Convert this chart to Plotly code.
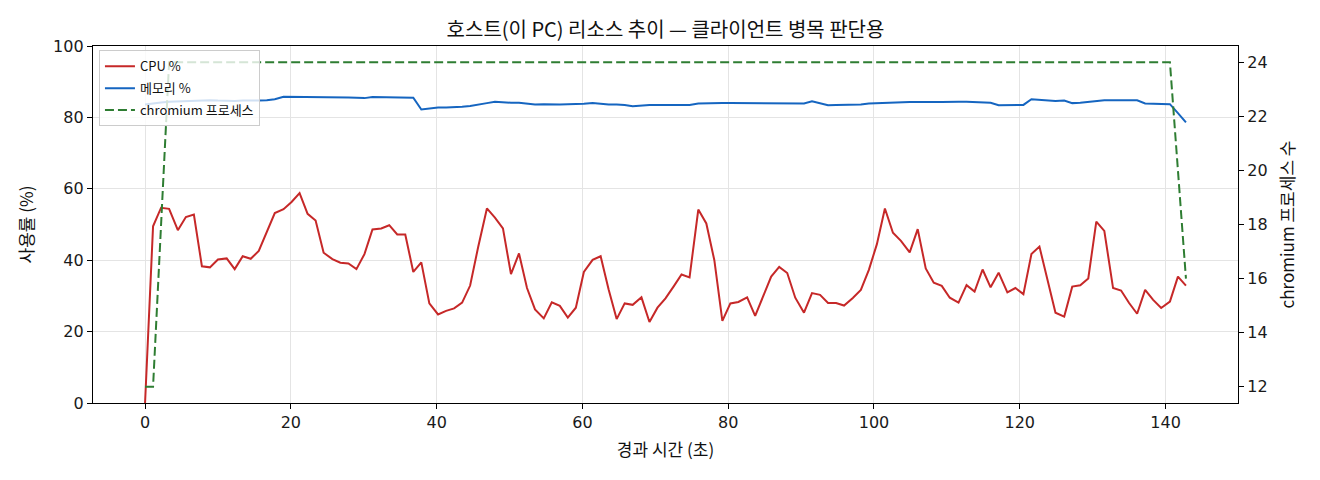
import plotly.graph_objects as go

# elapsed time (s)
time_s = [
    0.0, 1.1, 2.2, 3.3, 4.5, 5.6, 6.7, 7.8, 8.9, 10.0,
    11.2, 12.3, 13.4, 14.5, 15.6, 16.7, 17.8, 19.0, 20.1, 21.2,
    22.3, 23.4, 24.5, 25.7, 26.8, 27.9, 29.0, 30.1, 31.2, 32.4,
    33.5, 34.6, 35.7, 36.8, 37.9, 39.0, 40.2, 41.3, 42.4, 43.5,
    44.6, 45.7, 46.9, 48.0, 49.1, 50.2, 51.3, 52.4, 53.5, 54.7,
    55.8, 56.9, 58.0, 59.1, 60.2, 61.4, 62.5, 63.6, 64.7, 65.8,
    66.9, 68.1, 69.2, 70.3, 71.4, 72.5, 73.6, 74.7, 75.9, 77.0,
    78.1, 79.2, 80.3, 81.4, 82.6, 83.7, 84.8, 85.9, 87.0, 88.1,
    89.2, 90.4, 91.5, 92.6, 93.7, 94.8, 95.9, 97.1, 98.2, 99.3,
    100.4, 101.5, 102.6, 103.7, 104.9, 106.0, 107.1, 108.2, 109.3, 110.4,
    111.6, 112.7, 113.8, 114.9, 116.0, 117.1, 118.3, 119.4, 120.5, 121.6,
    122.7, 123.8, 124.9, 126.1, 127.2, 128.3, 129.4, 130.5, 131.6, 132.8,
    133.9, 135.0, 136.1, 137.2, 138.3, 139.4, 140.6, 141.7, 142.8,
]

cpu_pct = [
    0.0, 49.5, 54.7, 54.4, 48.4, 52.1, 52.8, 38.3, 38.0, 40.2,
    40.5, 37.5, 41.1, 40.4, 42.6, 47.7, 53.2, 54.3, 56.3, 58.8,
    53.0, 51.1, 42.1, 40.3, 39.3, 39.1, 37.5, 41.7, 48.6, 48.9,
    49.8, 47.2, 47.2, 36.7, 39.4, 27.9, 24.8, 25.8, 26.5, 28.1,
    32.9, 43.7, 54.5, 51.9, 48.9, 36.1, 41.9, 32.2, 26.2, 23.7,
    28.2, 27.2, 23.9, 26.7, 36.7, 40.1, 41.1, 31.8, 23.5, 27.9,
    27.5, 29.6, 22.7, 26.7, 29.3, 32.6, 36.0, 35.2, 54.2, 50.3,
    40.0, 23.0, 27.9, 28.3, 29.6, 24.4, 30.0, 35.4, 38.1, 36.4,
    29.5, 25.3, 30.8, 30.3, 28.0, 28.0, 27.3, 29.4, 31.7, 37.3,
    44.5, 54.5, 47.7, 45.4, 42.2, 48.7, 37.7, 33.7, 32.8, 29.5,
    28.1, 33.0, 31.2, 37.4, 32.4, 36.5, 31.0, 32.2, 30.5, 41.7,
    43.8, 34.7, 25.3, 24.2, 32.6, 33.0, 34.9, 50.8, 48.2, 32.2,
    31.5, 28.0, 25.0, 31.7, 28.9, 26.6, 28.4, 35.4, 32.9,
]

mem_pct = [
    83.6, 84.0, 84.2, 84.4, 84.5, 84.6, 84.7, 84.8, 84.8, 84.7,
    84.6, 84.6, 84.7, 84.6, 84.7, 84.8, 85.1, 85.8, 85.8, 85.8,
    85.8, 85.8, 85.7, 85.7, 85.6, 85.6, 85.5, 85.4, 85.7, 85.7,
    85.7, 85.7, 85.6, 85.5, 82.2, 82.5, 82.8, 82.8, 82.8, 83.0,
    83.2, 83.5, 84.0, 84.4, 84.2, 84.1, 84.1, 83.9, 83.6, 83.7,
    83.6, 83.6, 83.7, 83.7, 83.8, 84.0, 83.7, 83.6, 83.6, 83.5,
    83.1, 83.4, 83.5, 83.5, 83.5, 83.5, 83.6, 83.5, 83.9, 84.0,
    84.0, 84.0, 84.0, 84.0, 83.9, 83.8, 83.8, 83.8, 84.0, 83.9,
    83.8, 83.9, 84.5, 83.9, 83.4, 83.5, 83.5, 83.5, 83.6, 83.9,
    84.0, 84.0, 84.1, 84.1, 84.3, 84.3, 84.2, 84.3, 84.3, 84.4,
    84.4, 84.4, 84.3, 84.4, 84.1, 83.4, 83.5, 83.5, 83.5, 85.1,
    84.9, 84.6, 84.6, 84.7, 84.0, 84.1, 84.3, 84.7, 84.8, 84.8,
    84.8, 84.8, 84.8, 83.9, 83.9, 83.8, 83.7, 81.2, 78.6,
]

chromium_procs = [
    12, 12, 18, 24, 24, 24, 24, 24, 24, 24,
    24, 24, 24, 24, 24, 24, 24, 24, 24, 24,
    24, 24, 24, 24, 24, 24, 24, 24, 24, 24,
    24, 24, 24, 24, 24, 24, 24, 24, 24, 24,
    24, 24, 24, 24, 24, 24, 24, 24, 24, 24,
    24, 24, 24, 24, 24, 24, 24, 24, 24, 24,
    24, 24, 24, 24, 24, 24, 24, 24, 24, 24,
    24, 24, 24, 24, 24, 24, 24, 24, 24, 24,
    24, 24, 24, 24, 24, 24, 24, 24, 24, 24,
    24, 24, 24, 24, 24, 24, 24, 24, 24, 24,
    24, 24, 24, 24, 24, 24, 24, 24, 24, 24,
    24, 24, 24, 24, 24, 24, 24, 24, 24, 24,
    24, 24, 24, 24, 24, 24, 24, 20, 16,
]

x_ticks = [0, 20, 40, 60, 80, 100, 120, 140]
y_ticks = [0, 20, 40, 60, 80, 100]
y2_ticks = [12, 14, 16, 18, 20, 22, 24]

FONT = "Noto Sans CJK KR, Noto Sans, sans-serif"
TICKFONT = "DejaVu Sans, Noto Sans CJK KR, sans-serif"
GRID = "#e4e4e4"

fig = go.Figure()
fig.add_trace(go.Scatter(x=time_s, y=cpu_pct, name="CPU %", mode="lines", legendgroup="a",
                         line=dict(color="#c62828", width=2)))
fig.add_trace(go.Scatter(x=time_s, y=mem_pct, name="메모리 %", mode="lines", legendgroup="b",
                         line=dict(color="#1565c0", width=2)))
fig.add_trace(go.Scatter(x=time_s, y=chromium_procs, name="chromium 프로세스", mode="lines",
                         legendgroup="c", yaxis="y2",
                         line=dict(color="#2e7d32", width=2, dash="9px,4px")))

axis_common = dict(showline=True, linecolor="black", linewidth=1.3, ticks="outside",
                   ticklen=5, tickwidth=1.2, tickcolor="black", zeroline=False,
                   tickfont=dict(family=TICKFONT, size=16, color="#1a1a1a"))

# page body has an 8px margin: figure sized/offset so the plot box lands at x 93..1238, y 46..403
fig.update_layout(
    width=1312, height=472, autosize=False,
    margin=dict(l=85, r=82, t=38, b=77),
    paper_bgcolor="white", plot_bgcolor="white",
    font=dict(family=FONT, color="#111"),
    title=dict(text="호스트(이 PC) 리소스 추이 — 클라이언트 병목 판단용",
               x=657.5 / 1312, xanchor="center", y=1 - 22 / 472, yanchor="middle",
               yref="container", font=dict(family=FONT, size=20, color="#111")),
    xaxis=dict(range=[-7.14, 149.94], tickvals=x_ticks, showgrid=True, gridcolor=GRID,
               mirror=True, title=dict(text="경과 시간 (초)", standoff=12,
                                       font=dict(family=FONT, size=17)),
               **axis_common),
    yaxis=dict(range=[0, 100], tickvals=y_ticks, showgrid=True, gridcolor=GRID,
               mirror=True, title=dict(text="사용률 (%)", standoff=15,
                                       font=dict(family=FONT, size=17)),
               **axis_common),
    yaxis2=dict(range=[11.4, 24.6], tickvals=y2_ticks, overlaying="y", side="right",
                showgrid=False, title=dict(text="chromium 프로세스 수", standoff=15,
                                           font=dict(family=FONT, size=17)),
                **axis_common),
    legend=dict(x=0.0052, y=0.988, xanchor="left", yanchor="top",
                bgcolor="rgba(255,255,255,0.8)", bordercolor="#cccccc", borderwidth=1,
                font=dict(family=FONT, size=13, color="#111"), tracegroupgap=2,
                itemwidth=30),
    showlegend=True,
)

fig.write_html("out.html")
